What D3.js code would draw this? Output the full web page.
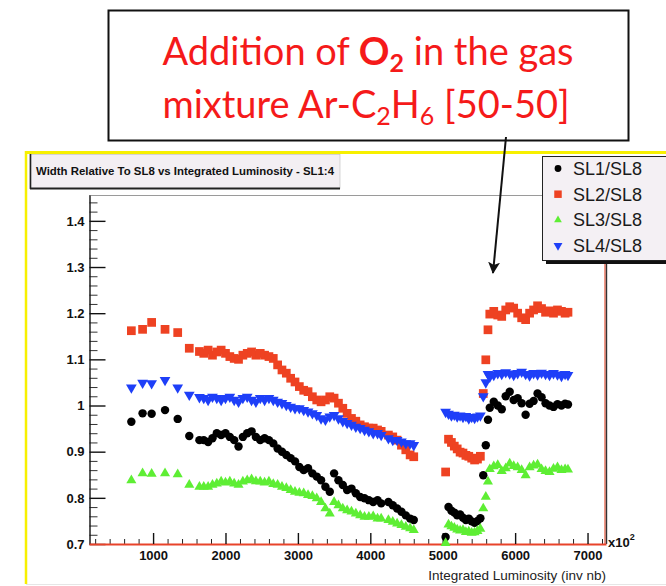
<!DOCTYPE html>
<html>
<head>
<meta charset="utf-8">
<script src="https://cdn.jsdelivr.net/npm/d3@7/dist/d3.min.js"></script>
<style>
  html, body { margin: 0; padding: 0; background: #fff; }
  svg { display: block; }
</style>
</head>
<body>
<svg id="chart" width="666" height="586"></svg>
<script>
// ── Data ──────────────────────────────────────────────────────────────────────
const seriesNames = ['SL1/SL8', 'SL2/SL8', 'SL3/SL8', 'SL4/SL8'];

// integrated luminosity, same points for all four ratios
const lumi = [
  700, 855, 980, 1165, 1340, 1500, 1640,
  1700, 1760, 1820, 1880, 1940, 2000, 2060, 2120, 2180, 2240, 2300, 2360, 2420, 2480,
  2540, 2600, 2660, 2720, 2780, 2840, 2900, 2960, 3020, 3080, 3140, 3200, 3260, 3320,
  3380, 3440, 3500, 3560, 3620, 3680, 3740, 3800, 3860, 3920, 3980, 4040, 4100, 4150,
  4250, 4310, 4370, 4430, 4490, 4550, 4600,
  5040, 5080, 5120, 5160, 5200, 5240, 5280, 5320, 5360, 5400, 5440, 5480, 5520,
  5560, 5595, 5625,
  5650, 5705, 5760, 5815, 5870, 5925, 5980, 6035, 6090, 6145, 6200, 6255, 6310, 6365,
  6420, 6475, 6530, 6585, 6640, 6690, 6730
];

const sl1 = [
  0.965, 0.983, 0.982, 0.990, 0.971, 0.934, 0.925,
  0.925, 0.921, 0.929, 0.940, 0.936, 0.940, 0.932, 0.925, 0.911, 0.932, 0.940, 0.944, 0.932, 0.925,
  0.929, 0.925, 0.918, 0.907, 0.900, 0.893, 0.886, 0.879, 0.867, 0.860, 0.864, 0.853, 0.846, 0.838,
  0.824, 0.813, 0.853, 0.838, 0.828, 0.817, 0.820, 0.810, 0.802, 0.799, 0.795, 0.791, 0.795, 0.788,
  0.791, 0.784, 0.777, 0.770, 0.762, 0.755, 0.752,
  0.715, 0.780, 0.772, 0.768, 0.762, 0.764, 0.757, 0.752, 0.755, 0.749, 0.746, 0.750, 0.756,
  0.849, 0.914, 0.969,
  0.995, 1.008, 1.000, 0.992, 1.020, 1.030, 1.012, 1.016, 1.005, 0.980, 1.004, 1.010, 1.026, 1.018,
  1.005, 1.000, 0.997, 1.003, 1.000, 1.004, 1.002
];

const sl2 = [
  1.162, 1.165, 1.180, 1.165, 1.158, 1.124, 1.117,
  1.113, 1.120, 1.109, 1.116, 1.120, 1.113, 1.106, 1.102, 1.100, 1.109, 1.113, 1.116, 1.109, 1.113,
  1.109, 1.106, 1.102, 1.088, 1.077, 1.070, 1.059, 1.051, 1.041, 1.033, 1.030, 1.019, 1.012, 1.008,
  1.012, 1.019, 1.016, 1.005, 0.994, 0.983, 0.972, 0.966, 0.958, 0.954, 0.951, 0.951, 0.947, 0.944,
  0.936, 0.932, 0.925, 0.914, 0.904, 0.893, 0.889,
  0.856, 0.927, 0.920, 0.912, 0.906, 0.899, 0.897, 0.892, 0.890, 0.886, 0.882, 0.884, 0.890,
  1.026, 1.099, 1.164,
  1.198, 1.204, 1.196, 1.193, 1.207, 1.214, 1.211, 1.200, 1.190, 1.186, 1.200, 1.207, 1.216, 1.210,
  1.202, 1.205, 1.200, 1.207, 1.204, 1.200, 1.202
];

const sl3 = [
  0.838, 0.853, 0.852, 0.853, 0.851, 0.828, 0.824,
  0.824, 0.824, 0.828, 0.831, 0.835, 0.833, 0.835, 0.831, 0.828, 0.835, 0.838, 0.840, 0.836, 0.835,
  0.833, 0.835, 0.830, 0.828, 0.824, 0.821, 0.817, 0.813, 0.811, 0.810, 0.806, 0.804, 0.799, 0.791,
  0.777, 0.766, 0.791, 0.784, 0.777, 0.773, 0.770, 0.766, 0.762, 0.759, 0.759, 0.760, 0.755, 0.755,
  0.752, 0.748, 0.744, 0.741, 0.737, 0.734, 0.730,
  0.702, 0.742, 0.738, 0.735, 0.731, 0.729, 0.730, 0.726, 0.727, 0.724, 0.725, 0.728, 0.733,
  0.777, 0.802, 0.835,
  0.862, 0.868, 0.871, 0.858, 0.864, 0.874, 0.869, 0.866, 0.860, 0.849, 0.866, 0.870, 0.872, 0.862,
  0.858, 0.856, 0.863, 0.866, 0.860, 0.862, 0.861
];

const sl4 = [
  1.039, 1.049, 1.048, 1.055, 1.039, 1.023, 1.018,
  1.016, 1.012, 1.019, 1.016, 1.012, 1.016, 1.019, 1.012, 1.008, 1.016, 1.019, 1.012, 1.008, 1.016,
  1.012, 1.016, 1.012, 1.008, 1.005, 1.001, 0.997, 0.994, 0.994, 0.990, 0.987, 0.983, 0.979, 0.972,
  0.969, 0.976, 0.979, 0.972, 0.966, 0.962, 0.958, 0.954, 0.951, 0.947, 0.944, 0.940, 0.940, 0.936,
  0.929, 0.925, 0.925, 0.922, 0.918, 0.918, 0.914,
  0.986, 0.982, 0.978, 0.980, 0.976, 0.978, 0.975, 0.977, 0.972, 0.975, 0.973, 0.976, 0.978,
  1.020, 1.050, 1.068,
  1.062, 1.066, 1.070, 1.068, 1.072, 1.069, 1.066, 1.070, 1.073, 1.068, 1.065, 1.070, 1.067, 1.071,
  1.068, 1.066, 1.070, 1.067, 1.064, 1.068, 1.066
];

const xTicks = [1000, 2000, 3000, 4000, 5000, 6000, 7000];
const yTicks = [0.7, 0.8, 0.9, 1.0, 1.1, 1.2, 1.3, 1.4];

// ── Setup ─────────────────────────────────────────────────────────────────────
const svg = d3.select('#chart');
const FONT = '"Liberation Sans", Arial, Helvetica, sans-serif';

const x = d3.scaleLinear().domain([115, 7255]).range([89, 606]);
const y = d3.scaleLinear().domain([0.7, 1.456]).range([544, 195]);

// ROOT canvas frame (yellow)
svg.append('line').attr('x1', 25).attr('x2', 666).attr('y1', 152.5).attr('y2', 152.5)
  .attr('stroke', '#f7f000').attr('stroke-width', 3);
svg.append('line').attr('x1', 26).attr('x2', 26).attr('y1', 151).attr('y2', 584)
  .attr('stroke', '#f7f000').attr('stroke-width', 2.5);
svg.append('line').attr('x1', 26).attr('x2', 666).attr('y1', 584.5).attr('y2', 584.5)
  .attr('stroke', '#e6e6e6').attr('stroke-width', 1);

// ── Frame + axes ──────────────────────────────────────────────────────────────
const gFrame = svg.append('g');
gFrame.append('line').attr('x1', 89).attr('x2', 606).attr('y1', 195.5).attr('y2', 195.5)
  .attr('stroke', '#9a9a9a');
gFrame.append('line').attr('x1', 605).attr('x2', 605).attr('y1', 195).attr('y2', 544)
  .attr('stroke', '#e8553a').attr('stroke-width', 1.2);
gFrame.append('line').attr('x1', 606.5).attr('x2', 606.5).attr('y1', 195).attr('y2', 544)
  .attr('stroke', '#333').attr('stroke-width', 1.4);

const yMinor = d3.range(0.72, 1.456, 0.02).filter(v => Math.abs(v * 10 - Math.round(v * 10)) > 0.01);
const xMinor = d3.range(200, 7255, 200).filter(v => v % 1000 !== 0);

const gy = svg.append('g').attr('transform', 'translate(89.5,0)');
gy.call(d3.axisLeft(y).tickValues(yMinor).tickSizeInner(-8).tickSizeOuter(0).tickFormat(''));
gy.call(g => g.select('.domain').remove());
const gyMajor = svg.append('g').attr('transform', 'translate(89.5,0)')
  .call(d3.axisLeft(y).tickValues(yTicks).tickSizeInner(-16).tickSizeOuter(0).tickPadding(5)
    .tickFormat(v => String(+v.toFixed(1))));
gyMajor.select('.domain').attr('stroke', '#111').attr('stroke-width', 1.4);
gyMajor.selectAll('.tick line').attr('stroke', '#111').attr('stroke-width', 1.4);
gyMajor.selectAll('.tick text').attr('font-family', FONT).attr('font-size', 13)
  .attr('font-weight', 'bold').attr('fill', '#111');
gy.selectAll('.tick line').attr('stroke', '#333');

const gx = svg.append('g').attr('transform', 'translate(0,544)');
gx.call(d3.axisBottom(x).tickValues(xMinor).tickSizeInner(-5).tickSizeOuter(0).tickFormat(''));
gx.select('.domain').remove();
gx.selectAll('.tick line').attr('stroke', '#222');
const gxMajor = svg.append('g').attr('transform', 'translate(0,544)')
  .call(d3.axisBottom(x).tickValues(xTicks).tickSizeInner(-11).tickSizeOuter(0).tickPadding(7)
    .tickFormat(d3.format('d')));
gxMajor.selectAll('.tick line').attr('stroke', '#111').attr('stroke-width', 1.4);
gxMajor.selectAll('.tick text').attr('font-family', FONT).attr('font-size', 13)
  .attr('font-weight', 'bold').attr('fill', '#111');
gxMajor.select('.domain').attr('stroke', '#e8432a').attr('stroke-width', 2);

// x10^2 and axis title
const xMul = svg.append('text').attr('x', 608).attr('y', 547)
  .attr('font-family', FONT).attr('font-size', 13).attr('font-weight', 'bold').attr('fill', '#111')
  .text('x10');
xMul.append('tspan').attr('dy', -7).attr('font-size', 9).text('2');

svg.append('text').attr('x', 606).attr('y', 580).attr('text-anchor', 'end')
  .attr('font-family', FONT).attr('font-size', 13.5).attr('fill', '#222')
  .text('Integrated Luminosity (inv nb)');

// ── Markers ───────────────────────────────────────────────────────────────────
const styles = [
  { data: sl1, color: '#000000', sym: d3.symbolCircle, size: 56, rot: 0 },
  { data: sl2, color: '#ee4222', sym: d3.symbolSquare, size: 76, rot: 0 },
  { data: sl3, color: '#5eee34', sym: d3.symbolTriangle, size: 44, rot: 0 },
  { data: sl4, color: '#1e3ff8', sym: d3.symbolTriangle, size: 50, rot: 180 }
];

const gData = svg.append('g');
styles.forEach(s => {
  const sym = d3.symbol().type(s.sym).size(s.size);
  gData.append('g').selectAll('path')
    .data(lumi.map((l, i) => [l, s.data[i]]))
    .join('path')
    .attr('d', sym)
    .attr('transform', d => `translate(${x(d[0])},${y(d[1])}) rotate(${s.rot})`)
    .attr('fill', s.color);
});

// ── Legend ────────────────────────────────────────────────────────────────────
const gLeg = svg.append('g');
gLeg.append('rect').attr('x', 546).attr('y', 259).attr('width', 124).attr('height', 5).attr('fill', '#111');
gLeg.append('rect').attr('x', 542.5).attr('y', 156.5).attr('width', 124).attr('height', 104)
  .attr('fill', '#f4f0f4').attr('stroke', '#222').attr('stroke-width', 1);
const legSize = [36, 56, 26, 34];
styles.forEach((s, i) => {
  const cy = 168.5 + i * 25.7;
  gLeg.append('path')
    .attr('d', d3.symbol().type(s.sym).size(legSize[i])())
    .attr('transform', `translate(558,${cy}) rotate(${s.rot})`)
    .attr('fill', s.color);
  gLeg.append('text').attr('x', 573).attr('y', cy + 6.5)
    .attr('font-family', FONT).attr('font-size', 18).attr('fill', '#1a1a1a')
    .text(seriesNames[i]);
});

// ── Title pave ────────────────────────────────────────────────────────────────
const gTitle = svg.append('g');
gTitle.append('rect').attr('x', 30).attr('y', 154.5).attr('width', 310).attr('height', 34)
  .attr('fill', '#f3eff3').attr('stroke', '#bbb').attr('stroke-width', 0.6);
gTitle.append('line').attr('x1', 30.5).attr('x2', 30.5).attr('y1', 154).attr('y2', 189)
  .attr('stroke', '#222').attr('stroke-width', 1.6);
gTitle.append('line').attr('x1', 30).attr('x2', 340).attr('y1', 188.5).attr('y2', 188.5)
  .attr('stroke', '#222').attr('stroke-width', 2);
gTitle.append('text').attr('x', 36).attr('y', 175)
  .attr('font-family', FONT).attr('font-size', 11).attr('font-weight', 'bold').attr('fill', '#111')
  .attr('textLength', 298).attr('lengthAdjust', 'spacingAndGlyphs')
  .text('Width Relative To SL8 vs Integrated Luminosity - SL1:4');

// ── Annotation box + arrow ────────────────────────────────────────────────────
const ANN = '"Gill Sans", Lato, "Open Sans", sans-serif';
svg.append('rect').attr('x', 108.5).attr('y', 10.5).attr('width', 520).attr('height', 130)
  .attr('fill', '#fff').attr('stroke', '#111').attr('stroke-width', 2);

const l1 = svg.append('text').attr('x', 368).attr('y', 65).attr('text-anchor', 'middle')
  .attr('font-family', ANN).attr('font-size', 38).attr('fill', '#f51a1a');
l1.append('tspan').text('Addition of ');
l1.append('tspan').attr('font-weight', 'bold').text('O');
l1.append('tspan').attr('font-weight', 'bold').attr('font-size', 25).attr('dy', 7).text('2');
l1.append('tspan').attr('dy', -7).text(' in the gas');

const l2 = svg.append('text').attr('x', 366).attr('y', 118).attr('text-anchor', 'middle')
  .attr('font-family', ANN).attr('font-size', 38).attr('fill', '#f51a1a');
l2.append('tspan').text('mixture Ar-C');
l2.append('tspan').attr('font-size', 25).attr('dy', 7).text('2');
l2.append('tspan').attr('dy', -7).text('H');
l2.append('tspan').attr('font-size', 25).attr('dy', 7).text('6');
l2.append('tspan').attr('dy', -7).text(' [50-50]');

svg.append('defs').append('marker').attr('id', 'arrowhead')
  .attr('viewBox', '0 0 12 12').attr('refX', 11).attr('refY', 6)
  .attr('markerWidth', 12).attr('markerHeight', 12).attr('markerUnits', 'userSpaceOnUse')
  .attr('orient', 'auto')
  .append('path').attr('d', 'M0,0 L12,6 L0,12 L3,6 Z').attr('fill', '#111');
svg.append('line').attr('x1', 506).attr('y1', 137).attr('x2', 493).attr('y2', 273)
  .attr('stroke', '#111').attr('stroke-width', 2).attr('marker-end', 'url(#arrowhead)');
</script>
</body>
</html>
